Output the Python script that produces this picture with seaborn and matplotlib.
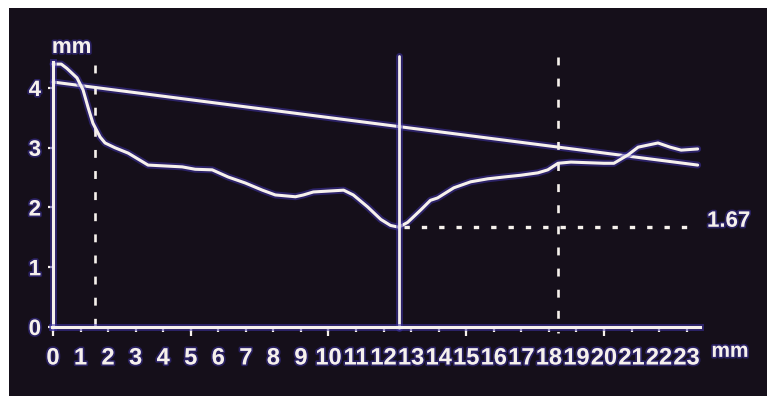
import matplotlib
matplotlib.use("Agg")
import matplotlib.pyplot as plt
import matplotlib.patheffects as pe
import pandas as pd
import seaborn as sns

# Vessel diameter profile along the analysed segment (mm)
distance = [0, 0.3, 0.5, 0.87, 1.09, 1.27, 1.45, 1.71, 1.89, 2.25, 2.73, 3.45,
            4.69, 5.16, 5.78, 6.36, 6.98, 7.6, 8.07, 8.8, 9.09, 9.45, 10.55,
            10.9, 11.42, 11.9, 12.25, 12.55, 12.87, 13.35, 13.7, 13.96, 14.55,
            15.16, 15.78, 16.36, 16.98, 17.6, 17.96, 18.33, 18.8, 20.0, 20.36,
            20.87, 21.24, 21.96, 22.4, 22.8, 23.4]
diameter = [4.40, 4.40, 4.33, 4.17, 3.97, 3.68, 3.41, 3.18, 3.08, 3.00, 2.91,
            2.71, 2.68, 2.64, 2.63, 2.51, 2.41, 2.29, 2.21, 2.18, 2.21, 2.26,
            2.29, 2.21, 2.01, 1.80, 1.70, 1.67, 1.75, 1.96, 2.12, 2.16, 2.33,
            2.43, 2.48, 2.51, 2.54, 2.58, 2.63, 2.74, 2.76, 2.74, 2.74, 2.88,
            3.01, 3.08, 3.01, 2.96, 2.98]

# Interpolated reference diameter
ref_distance = [0.0, 23.4]
ref_diameter = [4.10, 2.71]

# Minimal lumen diameter and segment markers
mld_value = 1.67
mld_position = 12.55
marker_positions = [1.53, 18.33]
marker_tops = [4.38, 4.52]

x_ticks = list(range(24))
x_tick_labels = [str(v) for v in x_ticks]
x_major_marks = [0, 5, 10, 15, 20]
y_ticks = [0, 1, 2, 3, 4]
y_tick_labels = [str(v) for v in y_ticks]

sns.set_theme(style="dark")
plt.rcParams["font.family"] = ["Liberation Sans", "DejaVu Sans"]

FG = "#f6f1ec"
BG = "#150f1a"
GLOW = "#3f33a8"
font = ["Liberation Sans", "DejaVu Sans"]

glow = [pe.Stroke(linewidth=5.0, foreground=GLOW, alpha=0.55), pe.Normal()]
text_glow = [pe.Stroke(linewidth=2.5, foreground=GLOW, alpha=0.5), pe.Normal()]

fig = plt.figure(figsize=(7.67, 3.96), dpi=100, facecolor="white")
ax = fig.add_axes([9 / 767, 0, 758 / 767, 388 / 396])
ax.set_facecolor(BG)
ax.grid(False)

profile = pd.DataFrame({"distance": distance, "diameter": diameter})
reference = pd.DataFrame({"distance": ref_distance, "diameter": ref_diameter})

sns.lineplot(data=reference, x="distance", y="diameter", ax=ax, color=FG,
             linewidth=2.2, path_effects=glow)
sns.lineplot(data=profile, x="distance", y="diameter", ax=ax, color=FG,
             linewidth=2.2, path_effects=glow)

# Segment boundary markers (dashed) and MLD cursor (solid)
for xpos, top in zip(marker_positions, marker_tops):
    ax.plot([xpos, xpos], [top, -0.1], color=FG, linewidth=1.9,
            linestyle=(0, (3.0, 5.0)), dash_capstyle="butt")
ax.plot([mld_position, mld_position], [4.54, -0.02], color=FG, linewidth=2.0,
        path_effects=glow)
ax.plot([mld_position + 0.2, 23.4], [mld_value, mld_value], color=FG,
        linewidth=2.4, linestyle=(0, (1.6, 3.6)), dash_capstyle="butt")
ax.text(23.74, mld_value + 0.1, f"{mld_value:.2f}", color=FG, fontsize=16,
        fontweight="bold", family=font, ha="left", va="center",
        path_effects=text_glow)

# Axes drawn as spines through the origin
ax.set_xlim(-1.597, 25.917)
ax.set_ylim(-1.155, 5.339)
for side in ("top", "right"):
    ax.spines[side].set_visible(False)
ax.spines["left"].set_position(("data", 0))
ax.spines["bottom"].set_position(("data", 0))
ax.spines["left"].set_bounds(0, 4.44)
ax.spines["bottom"].set_bounds(-0.04, 23.5)
for side in ("left", "bottom"):
    ax.spines[side].set_color(FG)
    ax.spines[side].set_linewidth(2.2)
    ax.spines[side].set_path_effects(glow)

ax.set_xticks(x_ticks)
ax.set_xticklabels(x_tick_labels, fontsize=17, fontweight="bold", family=font,
                   color=FG)
ax.set_xticks(x_major_marks, minor=True)
ax.xaxis.remove_overlapping_locs = False
ax.tick_params(axis="x", which="major", direction="out", length=3.5, width=1.6,
               color=FG, pad=10.5, bottom=True)
ax.tick_params(axis="x", which="minor", direction="out", length=6.5, width=1.6,
               color=FG, bottom=True)
ax.set_yticks(y_ticks)
ax.set_yticklabels(y_tick_labels, fontsize=16, fontweight="bold", family=font,
                   color=FG)
ax.tick_params(axis="y", direction="out", length=3.6, width=1.6, color=FG,
               pad=5, left=True)
for lbl in ax.get_xticklabels() + ax.get_yticklabels():
    lbl.set_path_effects(text_glow)

ax.set_xlabel("")
ax.set_ylabel("")
ax.text(-0.04, 4.586, "mm", color=FG, fontsize=16, fontweight="bold",
        family=font, ha="left", va="baseline", path_effects=text_glow)
ax.text(23.9, -0.50, "mm", color=FG, fontsize=15, fontweight="bold",
        family=font, ha="left", va="baseline", path_effects=text_glow)

fig.savefig("out.png", dpi=100, facecolor="white")
